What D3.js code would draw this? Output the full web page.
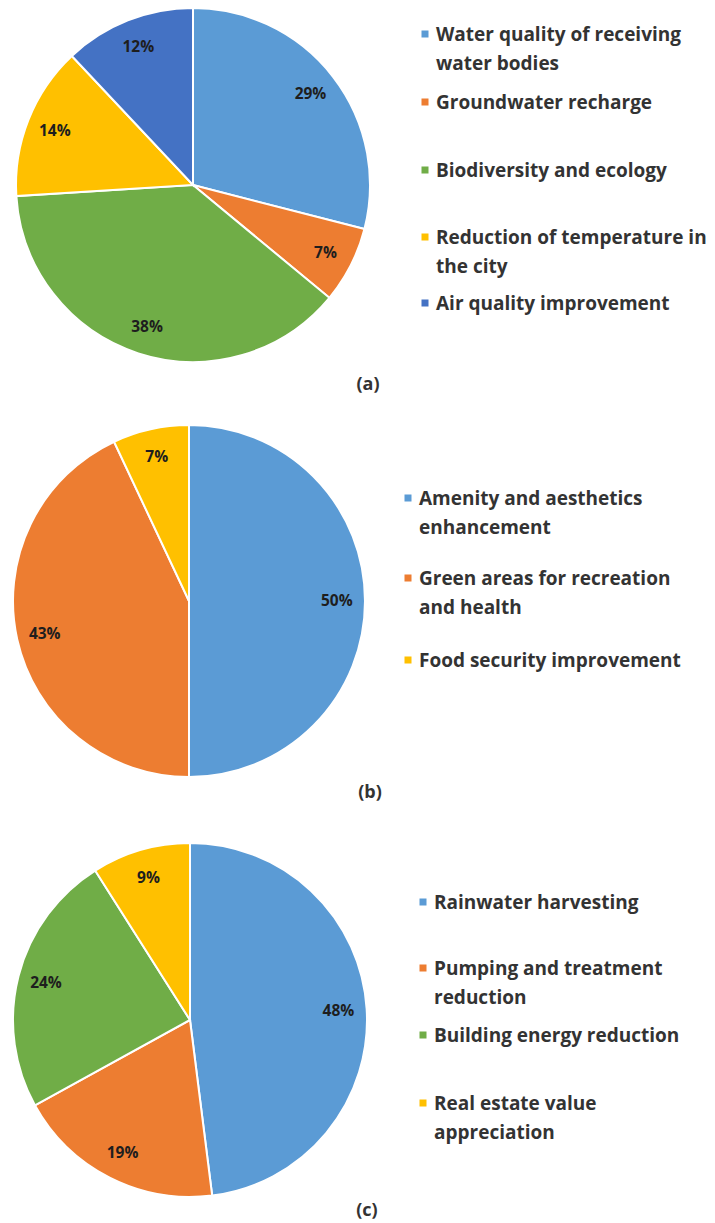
<!DOCTYPE html>
<html>
<head>
<meta charset="utf-8">
<script src="https://cdn.jsdelivr.net/npm/d3@7"></script>
<style>
  body { margin: 0; background: #fff; }
  svg { display: block; }
</style>
</head>
<body>
<svg id="chart" width="715" height="1223"></svg>
<script>
// data for the three pies
var labelsA = ["Water quality of receiving water bodies", "Groundwater recharge", "Biodiversity and ecology", "Reduction of temperature in the city", "Air quality improvement"];
var valuesA = [29, 7, 38, 14, 12];
var legendA = [["Water quality of receiving", "water bodies"], ["Groundwater recharge"], ["Biodiversity and ecology"], ["Reduction of temperature in", "the city"], ["Air quality improvement"]];

var labelsB = ["Amenity and aesthetics enhancement", "Green areas for recreation and health", "Food security improvement"];
var valuesB = [50, 43, 7];
var legendB = [["Amenity and aesthetics", "enhancement"], ["Green areas for recreation", "and health"], ["Food security improvement"]];

var labelsC = ["Rainwater harvesting", "Pumping and treatment reduction", "Building energy reduction", "Real estate value appreciation"];
var valuesC = [48, 19, 24, 9];
var legendC = [["Rainwater harvesting"], ["Pumping and treatment", "reduction"], ["Building energy reduction"], ["Real estate value", "appreciation"]];

var captions = ["(a)", "(b)", "(c)"];

// excel-ish palette
var blue = "#5B9BD5", orange = "#ED7D31", green = "#70AD47", yellow = "#FFC000", darkBlue = "#4472C4";
var colorsA = [blue, orange, green, yellow, darkBlue];
var colorsB = [blue, orange, yellow];
var colorsC = [blue, orange, green, yellow];

var font = "'Open Sans', Lato, sans-serif";
var svg = d3.select("#chart");

var panels = [
    { values: valuesA, legend: legendA, colors: colorsA, cx: 193, cy: 185, r: 177,
      legX: 425, legY: [34, 102, 170, 237, 303], capX: 368, capY: 384 },
    { values: valuesB, legend: legendB, colors: colorsB, cx: 189, cy: 601, r: 176,
      legX: 408, legY: [498, 578, 660], capX: 370, capY: 792 },
    { values: valuesC, legend: legendC, colors: colorsC, cx: 190, cy: 1020, r: 177,
      legX: 423, legY: [902, 968, 1035, 1103], capX: 367, capY: 1210 }
];

var pie = d3.pie().sort(null).value(d => d);

panels.forEach(function (p, k) {
    var g = svg.append("g").attr("transform", `translate(${p.cx},${p.cy})`);
    var arc = d3.arc().innerRadius(0).outerRadius(p.r);
    var labelArc = d3.arc().innerRadius(p.r * 0.84).outerRadius(p.r * 0.84);
    var arcs = pie(p.values);

    g.selectAll("path")
        .data(arcs)
        .join("path")
        .attr("d", arc)
        .attr("fill", (d, i) => p.colors[i])
        .attr("stroke", "#fff")
        .attr("stroke-width", 2);

    // percentage labels
    g.selectAll("text")
        .data(arcs)
        .join("text")
        .attr("transform", d => `translate(${labelArc.centroid(d)})`)
        .attr("text-anchor", "middle")
        .attr("dy", "0.35em")
        .style("font-family", font)
        .style("font-weight", "bold")
        .style("font-size", "15.5px")
        .style("fill", "#1e1e1e")
        .text(d => d.data + "%");

    // legend
    var leg = svg.append("g");
    p.legend.forEach(function (lines, i) {
        var y = p.legY[i];
        leg.append("rect")
            .attr("x", p.legX - 3.5)
            .attr("y", y - 3.5)
            .attr("width", 7)
            .attr("height", 7)
            .attr("fill", p.colors[i]);
        var t = leg.append("text")
            .attr("y", y)
            .style("font-family", font)
            .style("font-weight", "bold")
            .style("font-size", "19px")
            .style("fill", "#333");
        lines.forEach(function (line, j) {
            t.append("tspan")
                .attr("x", p.legX + 11)
                .attr("dy", j == 0 ? "0.35em" : "29px")
                .text(line);
        });
    });

    svg.append("text")
        .attr("x", p.capX)
        .attr("y", p.capY)
        .attr("dy", "0.35em")
        .attr("text-anchor", "middle")
        .style("font-family", font)
        .style("font-weight", "bold")
        .style("font-size", "18px")
        .style("fill", "#333")
        .text(captions[k]);
});
</script>
</body>
</html>
